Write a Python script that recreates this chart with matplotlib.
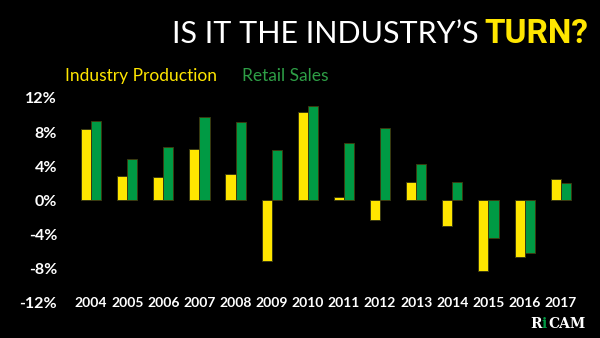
import numpy as np
import matplotlib
matplotlib.use("Agg")
import matplotlib.pyplot as plt


YEARS = ["2004", "2005", "2006", "2007", "2008", "2009", "2010",
         "2011", "2012", "2013", "2014", "2015", "2016", "2017"]

INDUSTRY_PRODUCTION = [8.4, 2.9, 2.7, 6.0, 3.1, -7.1, 10.3,
                       0.4, -2.3, 2.1, -3.0, -8.3, -6.6, 2.5]

RETAIL_SALES = [9.3, 4.9, 6.3, 9.7, 9.2, 5.9, 11.0,
                6.7, 8.5, 4.3, 2.2, -4.4, -6.1, 2.0]

Y_TICKS = [-12, -8, -4, 0, 4, 8, 12]

YELLOW = "#FFE600"
GREEN = "#009A44"
LEGEND_GREEN = "#2E9E46"
EDGE = "#3a3a10"


def make_chart():

    fig = plt.figure(figsize=(6, 3.38), dpi=100, facecolor="black")

    ax = fig.add_axes([0.1217, 0.1036, 0.843, 0.607])
    ax.set_facecolor("black")

    x = np.arange(len(YEARS))
    width = 0.28

    ax.bar(x - width / 2, INDUSTRY_PRODUCTION, width,
           color=YELLOW, edgecolor=EDGE, linewidth=0.7)
    ax.bar(x + width / 2, RETAIL_SALES, width,
           color=GREEN, edgecolor=EDGE, linewidth=0.7)

    ax.set_xlim(-0.5, len(YEARS) - 0.5)
    ax.set_ylim(-12, 12)

    for spine in ax.spines.values():
        spine.set_visible(False)

    ax.set_xticks([])
    ax.set_yticks(Y_TICKS)
    ax.set_yticklabels([f"{t}%" for t in Y_TICKS],
                       color="white", fontsize=11.5, fontweight="bold",
                       family="Lato")
    ax.tick_params(axis="y", length=0, pad=11.5)

    for i, year in enumerate(YEARS):
        ax.text(i, -12, year, ha="center", va="center", color="white",
                fontsize=10, fontweight="bold", family="Lato")

    # title
    fig.text(0.808, 0.873, "TURN?", ha="left", va="baseline",
             color=YELLOW, fontsize=24, fontweight="bold",
             family="Roboto", fontstretch="condensed")
    fig.text(0.797, 0.873, "IS IT THE INDUSTRY\u2019S", ha="right",
             va="baseline", color="white", fontsize=22,
             fontweight="normal", family="Lato")

    # legend
    fig.text(0.108, 0.775, "Industry Production", ha="left",
             va="center", color=YELLOW, fontsize=12.5, family="Lato")
    fig.text(0.403, 0.775, "Retail Sales", ha="left",
             va="center", color=LEGEND_GREEN, fontsize=12.5, family="Lato")

    # logo
    fig.text(0.883, 0.03, "R", ha="left", va="baseline", color="white",
             fontsize=10, fontweight="bold", family="DejaVu Serif")
    fig.text(0.903, 0.03, "i", ha="left", va="baseline", color=GREEN,
             fontsize=10, fontweight="bold", family="DejaVu Serif")
    fig.text(0.914, 0.03, "CAM", ha="left", va="baseline", color="white",
             fontsize=10, fontweight="bold", family="DejaVu Serif")

    fig.savefig("out.png", dpi=100, facecolor="black")
    plt.close(fig)


def main():

    make_chart()


if __name__ == "__main__":
    main()
